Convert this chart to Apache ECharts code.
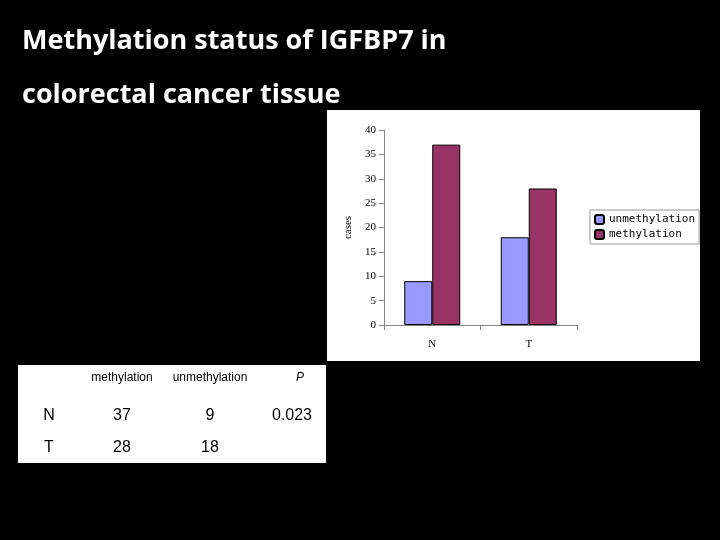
<!DOCTYPE html>
<html>
<head>
<meta charset="utf-8" />
<title>Methylation status of IGFBP7</title>
<style>
  html, body { margin: 0; padding: 0; background: #000; }
  #chartmain { width: 720px; height: 540px; }
</style>
</head>
<body>
<div id="chartmain"></div>
<script src="https://cdn.jsdelivr.net/npm/echarts@6/dist/echarts.min.js"></script>
<script>
// data
var categories = ['N', 'T'];
var unmethylation = [9, 18];
var methylation = [37, 28];
var tableHead = ['methylation', 'unmethylation', 'P'];
var tableRows = [['N', '37', '9', '0.023'], ['T', '28', '18', '']];

var colX = [49, 122, 210, 292];
var rowY = [416, 448];
var tableText = [];
for (var i = 0; i < tableHead.length; i++) {
  tableText.push({
    type: 'text', x: colX[i + 1] + (i == 2 ? 8 : 0), y: 378,
    style: { text: tableHead[i], fill: '#000', font: (i == 2 ? 'italic ' : '') + '12px "Liberation Sans"', align: 'center', verticalAlign: 'middle' }
  });
}
for (var r = 0; r < tableRows.length; r++) {
  for (var c = 0; c < tableRows[r].length; c++) {
    tableText.push({
      type: 'text', x: colX[c], y: rowY[r],
      style: { text: tableRows[r][c], fill: '#000', font: '16px "Liberation Sans"', align: 'center', verticalAlign: 'middle' }
    });
  }
}

var option = {
  backgroundColor: '#000',
  animation: false,
  graphic: [
    { type: 'rect', z: -10, shape: { x: 327, y: 110, width: 373, height: 251 }, style: { fill: '#fff' } },
    { type: 'rect', z: -10, shape: { x: 18, y: 365, width: 308, height: 98 }, style: { fill: '#fff' } },
    { type: 'text', x: 22, y: 28, style: { text: 'Methylation status of IGFBP7 in', fill: '#fff', font: 'bold 27px "Open Sans"' } },
    { type: 'text', x: 22, y: 82, style: { text: 'colorectal cancer tissue', fill: '#fff', font: 'bold 27px "Open Sans"' } }
  ].concat(tableText),
  grid: { left: 384, top: 130, width: 193, height: 195 },
  legend: {
    left: 590, top: 210, orient: 'vertical',
    itemWidth: 9, itemHeight: 9, itemGap: 4,
    backgroundColor: '#fff', borderColor: '#999', borderWidth: 1, padding: [4, 4],
    textStyle: { fontFamily: 'DejaVu Sans Mono', fontSize: 11, color: '#000' },
    data: ['unmethylation', 'methylation']
  },
  xAxis: {
    type: 'category', data: categories,
    axisLine: { lineStyle: { color: '#888' } },
    axisTick: { show: true, alignWithLabel: false, lineStyle: { color: '#888' } },
    axisLabel: { color: '#000', fontFamily: 'Liberation Serif', fontSize: 11, margin: 14 }
  },
  yAxis: {
    type: 'value', min: 0, max: 40, interval: 5, name: 'cases',
    nameLocation: 'middle', nameGap: 30,
    nameTextStyle: { color: '#000', fontFamily: 'Liberation Serif', fontSize: 11 },
    axisLine: { show: true, lineStyle: { color: '#888' } },
    axisTick: { show: true, lineStyle: { color: '#888' } },
    splitLine: { show: false },
    axisLabel: { color: '#000', fontFamily: 'Liberation Serif', fontSize: 11 }
  },
  series: [
    { name: 'unmethylation', type: 'bar', data: unmethylation, barWidth: 28, barGap: '0%',
      itemStyle: { color: '#9999FF', borderColor: '#000', borderWidth: 1 } },
    { name: 'methylation', type: 'bar', data: methylation, barWidth: 28,
      itemStyle: { color: '#993366', borderColor: '#000', borderWidth: 1 } }
  ]
};
var myChart = echarts.init(document.getElementById('chartmain'));
myChart.setOption(option);
</script>
</body>
</html>
